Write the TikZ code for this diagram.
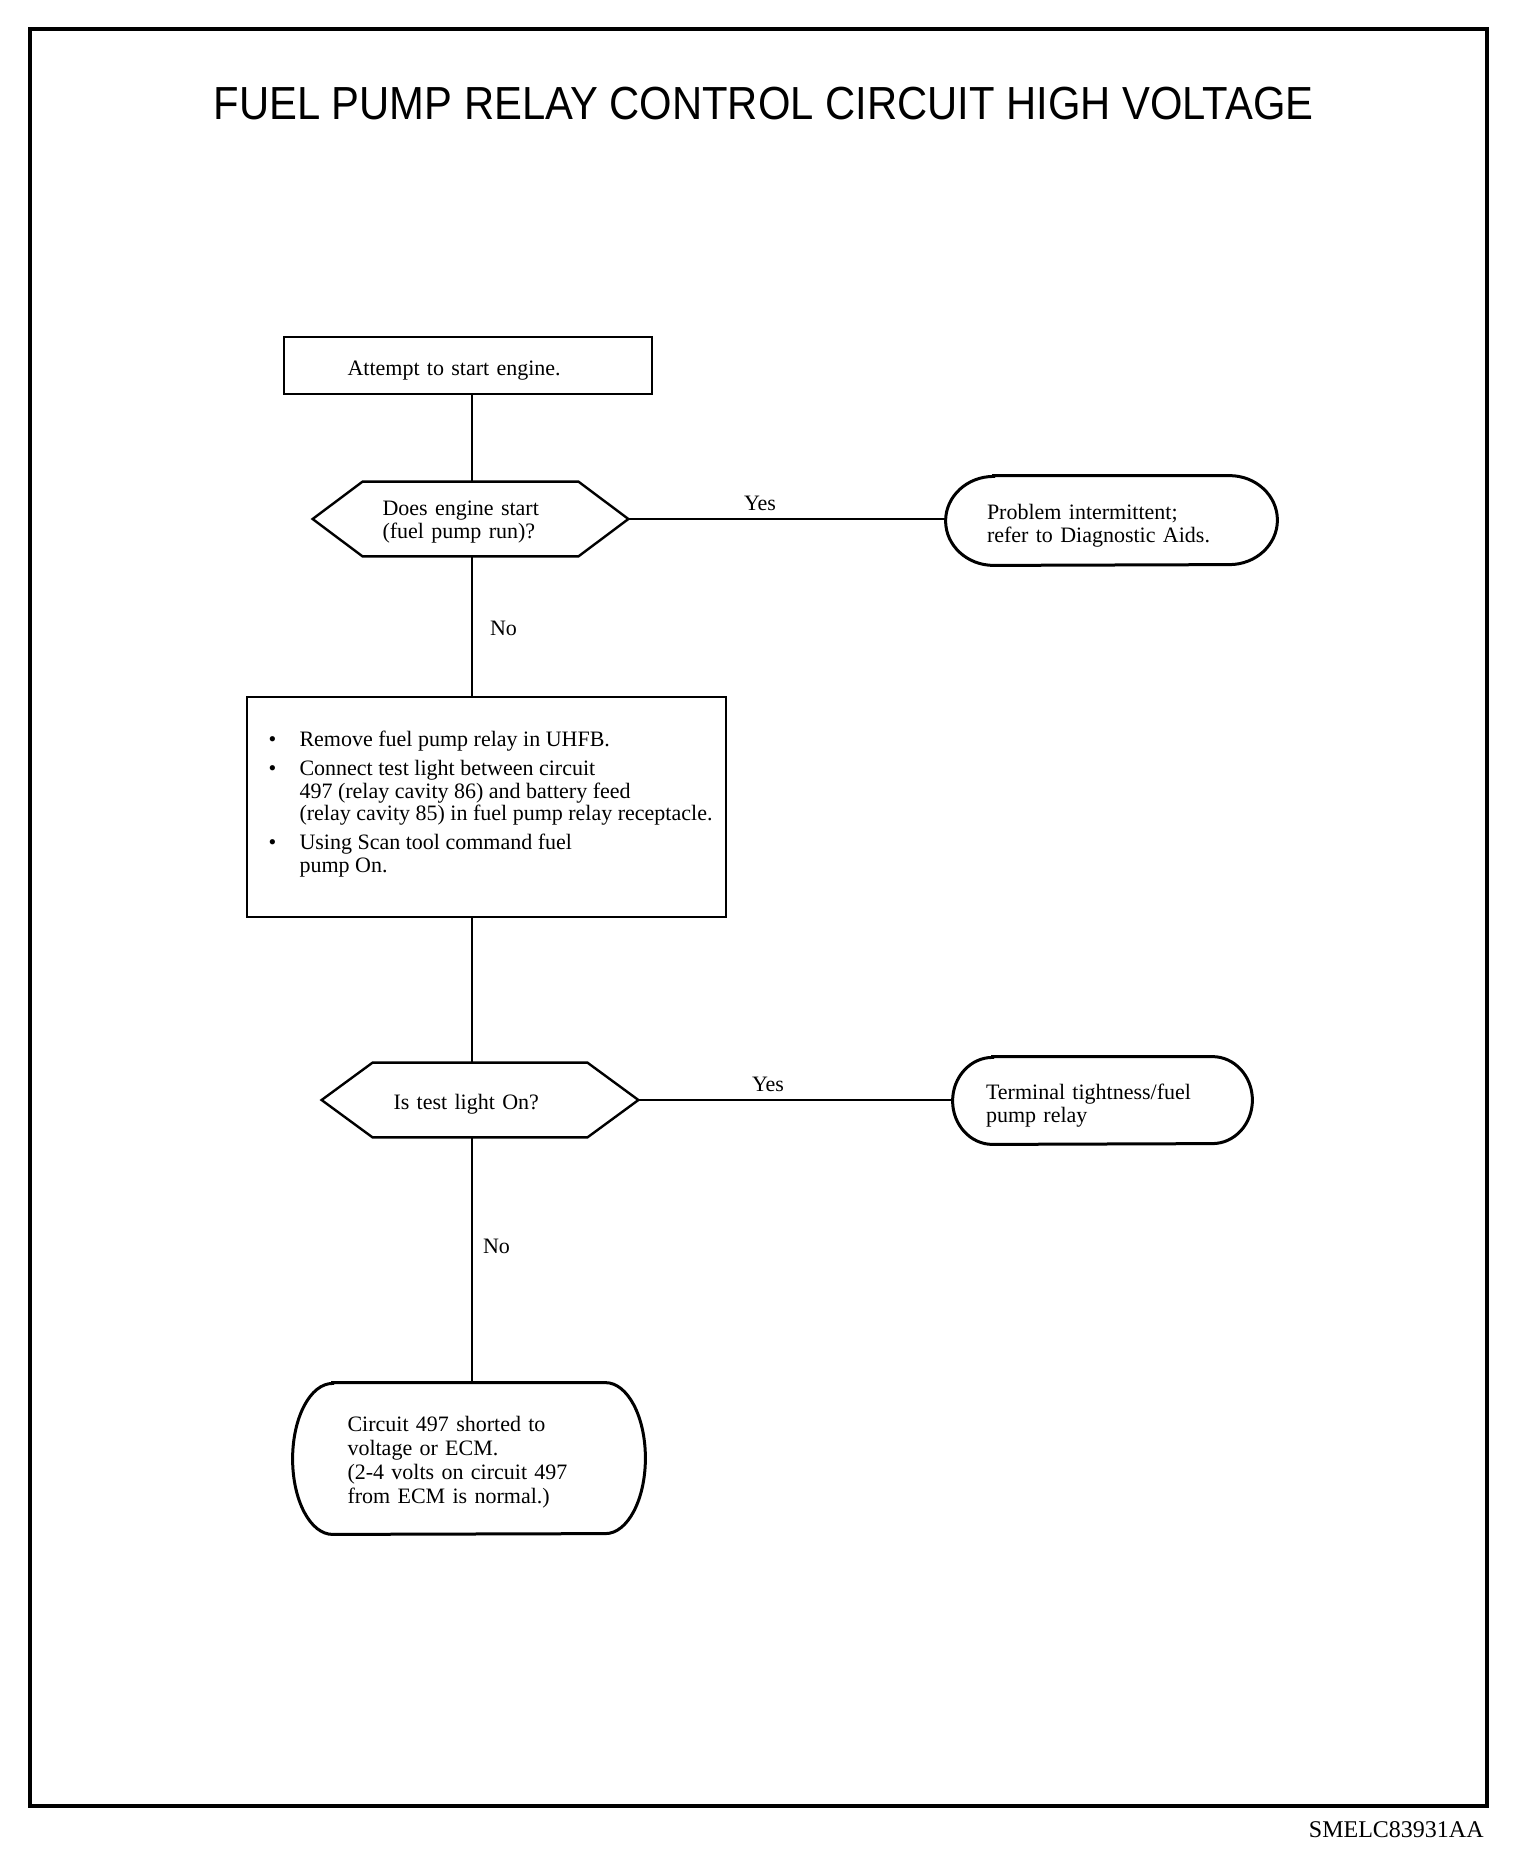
\documentclass[tikz,border=0pt]{standalone}
\usepackage{fontspec}
\setmainfont{Liberation Serif}
\newfontfamily\titlefont[FakeStretch=0.9]{Liberation Sans}
\newcommand\bitem{\makebox[15.5pt][l]{\textbullet}}
\newcommand\bcont{\hspace*{15.5pt}}
\newcommand\hexpath[2]{\draw[hexline] (#1.west) -- ([xshift=#2]#1.north west) -- ([xshift=-#2]#1.north east) -- (#1.east) -- ([xshift=-#2]#1.south east) -- ([xshift=#2]#1.south west) -- cycle;}
\newcommand\termpath[3]{\draw[termline] ([xshift=#2]#1.north west) -- ([xshift=-#2]#1.north east) arc[start angle=90,end angle=-90,x radius=#2,y radius=#3] -- ([xshift=#2]#1.south west) arc[start angle=270,end angle=90,x radius=#2,y radius=#3] -- cycle;}
\begin{document}
\begin{tikzpicture}[x=0.5pt,y=-0.5pt,
  every node/.style={font=\fontsize{11}{11.5}\selectfont, inner sep=0pt},
  procbox/.style={draw, line width=1.2pt, rectangle},
  shapebox/.style={draw=none, rectangle},
  txt/.style={align=left},
  hexline/.style={line width=1.2pt, line join=miter},
  termline/.style={line width=1.5pt},
  conn/.style={line width=0.9pt},
  lbl/.style={anchor=base}]
\useasboundingbox (0,0) rectangle (1520,1854);
\draw[line width=1.75pt] (30,29) rectangle (1487,1806);

\node[anchor=base, font=\titlefont\fontsize{23.2}{23.2}\selectfont] (title) at (763.5,119) {FUEL PUMP RELAY CONTROL CIRCUIT HIGH VOLTAGE};

\coordinate (spine) at (472,0);

% box 1
\node[procbox, minimum width=184pt, minimum height=28.5pt] (b1) at (468,365.5) {};
\node[txt, text width=120.5pt] (b1t) at ([yshift=-2.4pt]b1.center) {Attempt to start engine.};

% decision 1
\node[shapebox, minimum width=157.5pt, minimum height=37pt] (d1) at (470.5,519) {};
\hexpath{d1}{25pt}
\node[txt, text width=88pt] (d1t) at ([yshift=-1.5pt]d1.center) {Does engine start\\(fuel pump run)?};

% terminal 1
\node[shapebox, minimum width=165.5pt, minimum height=44.5pt] (t1) at (1111.5,520.5) {};
\termpath{t1}{24pt}{22.25pt}
\node[txt, text width=124.5pt] (t1t) at ([yshift=-2.6pt]t1.center) {Problem intermittent;\\refer to Diagnostic Aids.};

% box 2
\node[procbox, minimum width=239.5pt, minimum height=110pt] (b2) at (486.5,807) {};
\node[txt, font=\fontsize{11}{11.25}\selectfont] (b2t) at (486.5,804) {%
\hspace*{4pt}\bitem Remove fuel pump relay in UHFB.\\[3.25pt]
\hspace*{4pt}\bitem Connect test light between circuit\\
\hspace*{4pt}\bcont 497 (relay cavity 86) and battery feed\\
\hspace*{4pt}\bcont (relay cavity 85) in fuel pump relay receptacle.\\[3.25pt]
\hspace*{4pt}\bitem Using Scan tool command fuel\\
\hspace*{4pt}\bcont pump On.};

% decision 2
\node[shapebox, minimum width=158pt, minimum height=37pt] (d2) at (480,1100) {};
\hexpath{d2}{25.5pt}
\node[txt, text width=86.5pt] (d2t) at ([yshift=-2.3pt]d2.center) {Is test light On?};

% terminal 2
\node[shapebox, minimum width=149.5pt, minimum height=43.5pt] (t2) at (1102.5,1100.5) {};
\termpath{t2}{20pt}{21.75pt}
\node[txt, text width=116.5pt] (t2t) at ([yshift=-2.4pt]t2.center) {Terminal tightness/fuel\\pump relay};

% terminal 3
\node[shapebox, minimum width=176pt, minimum height=75.5pt] (t3) at (469,1458.5) {};
\termpath{t3}{20pt}{37.75pt}
\node[txt, text width=121.5pt, font=\fontsize{11}{12}\selectfont] (t3t) at ([yshift=-2pt]t3.center) {Circuit 497 shorted to\\voltage or ECM.\\(2-4 volts on circuit 497\\from ECM is normal.)};

% connectors
\draw[conn] (b1.south -| spine) -- (d1.north -| spine);
\draw[conn] (d1.south -| spine) -- (b2.north -| spine);
\draw[conn] (b2.south -| spine) -- (d2.north -| spine);
\draw[conn] (d2.south -| spine) -- (t3.north -| spine);
\draw[conn] (d1.east) -- (d1.east -| t1.west);
\draw[conn] (d2.east) -- (d2.east -| t2.west);

\node[lbl] (yes1) at (760,510) {Yes};
\node[lbl] (no1) at (503.5,635) {No};
\node[lbl] (yes2) at (768,1091) {Yes};
\node[lbl] (no2) at (496.5,1253) {No};

\node[anchor=base east, font=\fontsize{12}{12}\selectfont] (code) at (1484,1837) {SMELC83931AA};
\end{tikzpicture}
\end{document}
